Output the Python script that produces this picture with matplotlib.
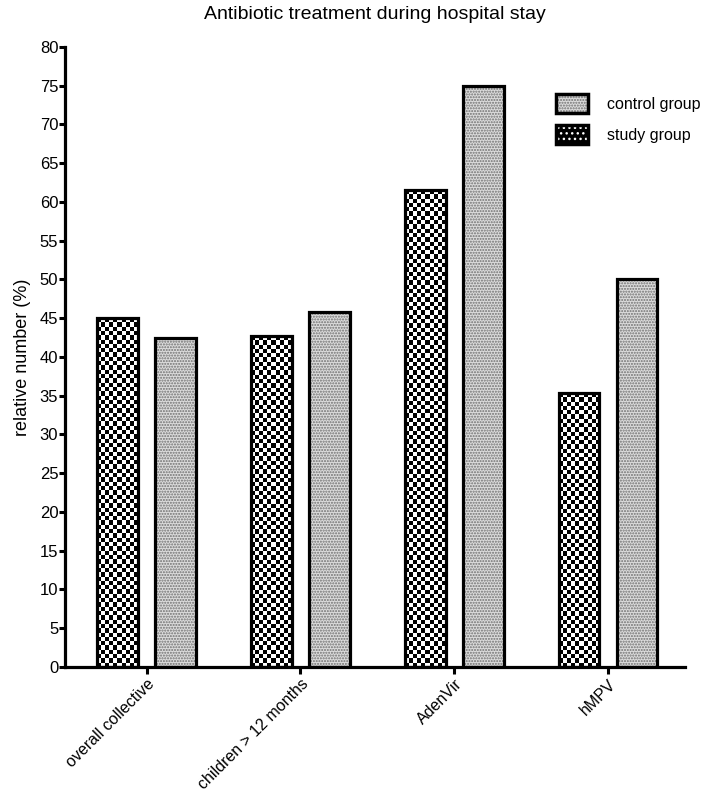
import matplotlib
matplotlib.use("Agg")
import matplotlib.pyplot as plt
from matplotlib.patches import Patch
from matplotlib.legend_handler import HandlerTuple
import numpy as np

plt.rcParams['font.family'] = ['Liberation Sans', 'DejaVu Sans']

categories = ["overall collective", "children > 12 months", "AdenVir", "hMPV"]
study_group = [45.0, 42.7, 61.5, 35.3]
control_group = [42.5, 45.8, 75.0, 50.0]

x = np.arange(len(categories))
width = 0.265
off = 0.188

fig = plt.figure(figsize=(7.09, 7.94), dpi=100)
ax = fig.add_axes([0.092, 0.160, 0.874, 0.781])

# study group: checkerboard fill clipped to each bar
study_bars = ax.bar(x - off, study_group, width, color='black', linewidth=0, zorder=1)
for bar, h in zip(study_bars, study_group):
    bx = bar.get_x()
    ny = max(2, int(round(h / 80 * 619 / 4.3)))
    chk = np.indices((ny, 10)).sum(axis=0) % 2
    im = ax.imshow(chk, cmap='gray', vmin=0, vmax=1, extent=(bx, bx + width, 0, h),
                   aspect='auto', interpolation='nearest', zorder=2)
    im.set_clip_path(bar)
ax.bar(x - off, study_group, width, facecolor='none', edgecolor='black', linewidth=2.3, zorder=3)

# control group: fine grey stipple
ax.bar(x + off, control_group, width, color='#dcdcdc', edgecolor='#707070', hatch='......',
       linewidth=0, zorder=1)
ax.bar(x + off, control_group, width, facecolor='none', edgecolor='black', linewidth=2.3, zorder=3)

ax.set_xlim(-0.53, 3.5)
ax.set_ylim(0, 80)
ax.set_yticks(range(0, 81, 5))
ax.set_xticks(x)
ax.set_xticklabels(categories, rotation=45, ha='right', rotation_mode='anchor', fontsize=11.5)
ax.tick_params(axis='y', labelsize=12, width=2.2, length=4, pad=1)
ax.tick_params(axis='x', width=2.2, length=5, pad=2)
for s in ['top', 'right']:
    ax.spines[s].set_visible(False)
for s in ['left', 'bottom']:
    ax.spines[s].set_linewidth(2.3)

ax.set_ylabel("relative number (%)", fontsize=13, labelpad=6)
ax.set_title("Antibiotic treatment during hospital stay", fontsize=14, pad=20)

h_control = (Patch(facecolor='#dcdcdc', edgecolor='#707070', hatch='......', linewidth=0),
             Patch(facecolor='none', edgecolor='black', linewidth=2.5))
h_study = (Patch(facecolor='black', edgecolor='white', hatch='...', linewidth=0),
           Patch(facecolor='none', edgecolor='black', linewidth=2.5))
ax.legend([h_control, h_study], ["control group", "study group"], loc='upper right',
          bbox_to_anchor=(1.035, 0.935), frameon=False, fontsize=11.5, borderaxespad=0,
          handlelength=2.0, handleheight=1.5, labelspacing=0.75, handletextpad=1.2,
          handler_map={tuple: HandlerTuple(ndivide=1, pad=0)})

fig.savefig("out.png", dpi=100)
